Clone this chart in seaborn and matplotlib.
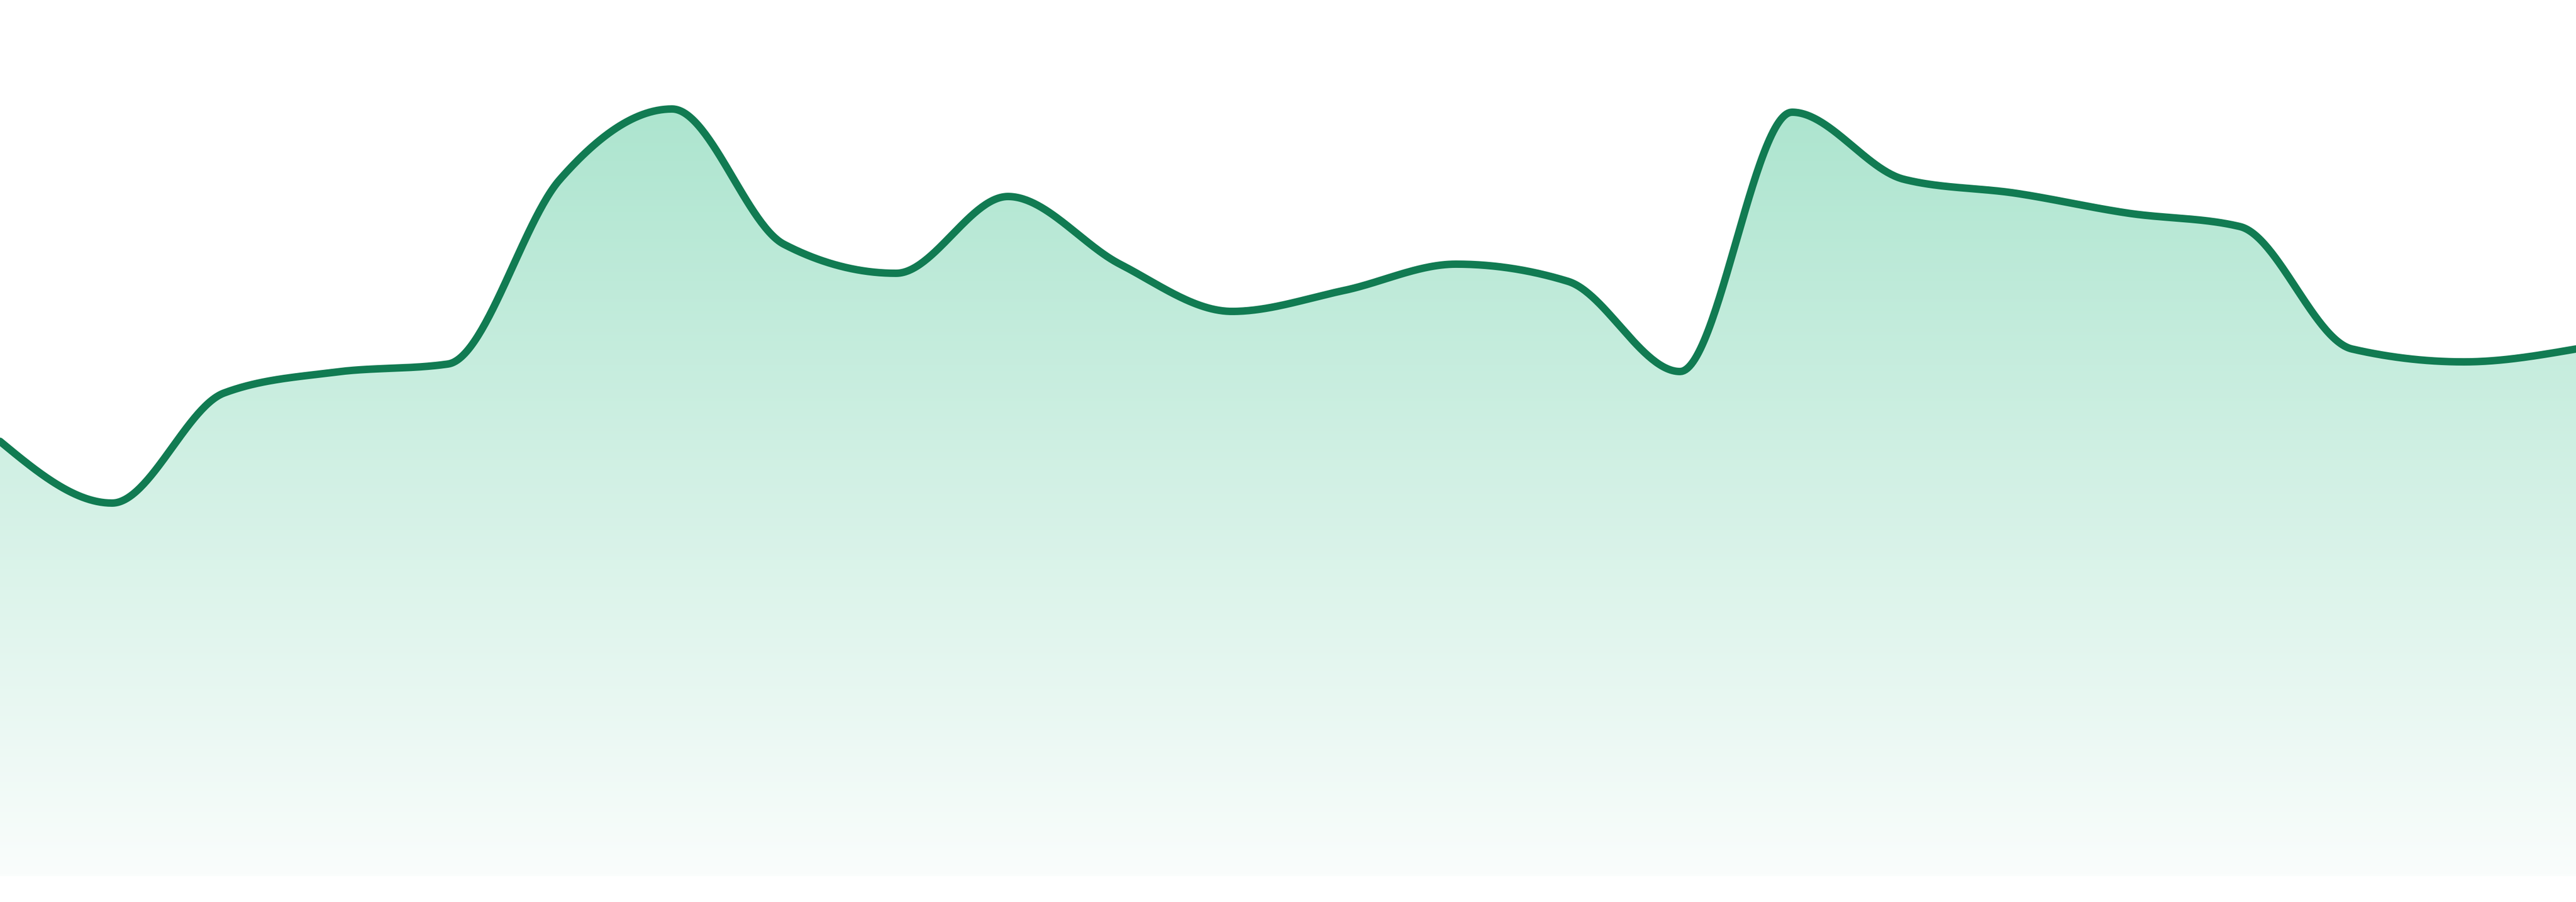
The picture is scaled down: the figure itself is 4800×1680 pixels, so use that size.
import numpy as np
import pandas as pd
import seaborn as sns
import matplotlib
matplotlib.use("Agg")
import matplotlib.pyplot as plt

# data: 24 samples of the sparkline
points = list(range(24))
values = [81.0, 69.5, 90.0, 93.9, 95.4, 129.8, 142.9, 117.7, 112.3, 126.6,
          114.0, 105.2, 109.1, 114.0, 110.8, 94.0, 142.3, 129.8, 127.2, 123.5,
          121.0, 98.2, 95.8, 98.2]
y_top = 163.2

line_color = "#117b52"
fill_top = (173, 229, 207)
fill_bottom = (250, 253, 252)


# monotone cubic (same idea as d3.curveMonotoneX) just for drawing the path
def monotone_tangents(x, y):
    x = np.asarray(x, float)
    y = np.asarray(y, float)
    h = np.diff(x)
    s = np.diff(y) / h
    n = len(x)
    t = np.zeros(n)
    for i in range(1, n - 1):
        p = (s[i - 1] * h[i] + s[i] * h[i - 1]) / (h[i - 1] + h[i])
        t[i] = (np.sign(s[i - 1]) + np.sign(s[i])) * min(abs(s[i - 1]), abs(s[i]), 0.5 * abs(p))
    t[0] = (3 * s[0] - t[1]) / 2
    t[-1] = (3 * s[-1] - t[-2]) / 2
    return t


def smooth_curve(x, y, per_seg=60):
    x = np.asarray(x, float)
    y = np.asarray(y, float)
    t = monotone_tangents(x, y)
    xs, ys = [], []
    for i in range(len(x) - 1):
        h = x[i + 1] - x[i]
        u = np.linspace(0, 1, per_seg, endpoint=False)
        h00 = 2 * u**3 - 3 * u**2 + 1
        h10 = u**3 - 2 * u**2 + u
        h01 = -2 * u**3 + 3 * u**2
        h11 = u**3 - u**2
        xs.append(x[i] + u * h)
        ys.append(h00 * y[i] + h10 * h * t[i] + h01 * y[i + 1] + h11 * h * t[i + 1])
    xs.append([x[-1]])
    ys.append([y[-1]])
    return np.concatenate(xs), np.concatenate(ys)


sns.set_theme(style="white")

cx, cy = smooth_curve(points, values)
df = pd.DataFrame({"x": cx, "y": cy})

fig = plt.figure(figsize=(24, 8.4), dpi=200)
ax = fig.add_axes([0, 48 / 1680, 1, 1632 / 1680])
ax.set_xlim(points[0], points[-1])
ax.set_ylim(0, y_top)
ax.axis("off")

# gradient fill clipped to the area under the curve
area = ax.fill_between(df["x"], df["y"], 0, color="none", lw=0)
top_v = max(values)
grad = np.linspace(0, 1, 256)[:, None]
rgb = np.array(fill_top)[None, None, :] * (1 - grad[..., None]) + np.array(fill_bottom)[None, None, :] * grad[..., None]
img = ax.imshow(rgb.astype(np.uint8), extent=[points[0], points[-1], 0, top_v],
                aspect="auto", origin="upper", zorder=1, interpolation="bilinear")
img.set_clip_path(area.get_paths()[0], transform=ax.transData)

sns.lineplot(data=df, x="x", y="y", ax=ax, color=line_color, lw=5.0,
             sort=False, estimator=None, zorder=3,
             solid_capstyle="round", solid_joinstyle="round")
ax.set_xlim(points[0], points[-1])
ax.set_ylim(0, y_top)
ax.axis("off")

fig.savefig("out.png", dpi=200, facecolor="white")
